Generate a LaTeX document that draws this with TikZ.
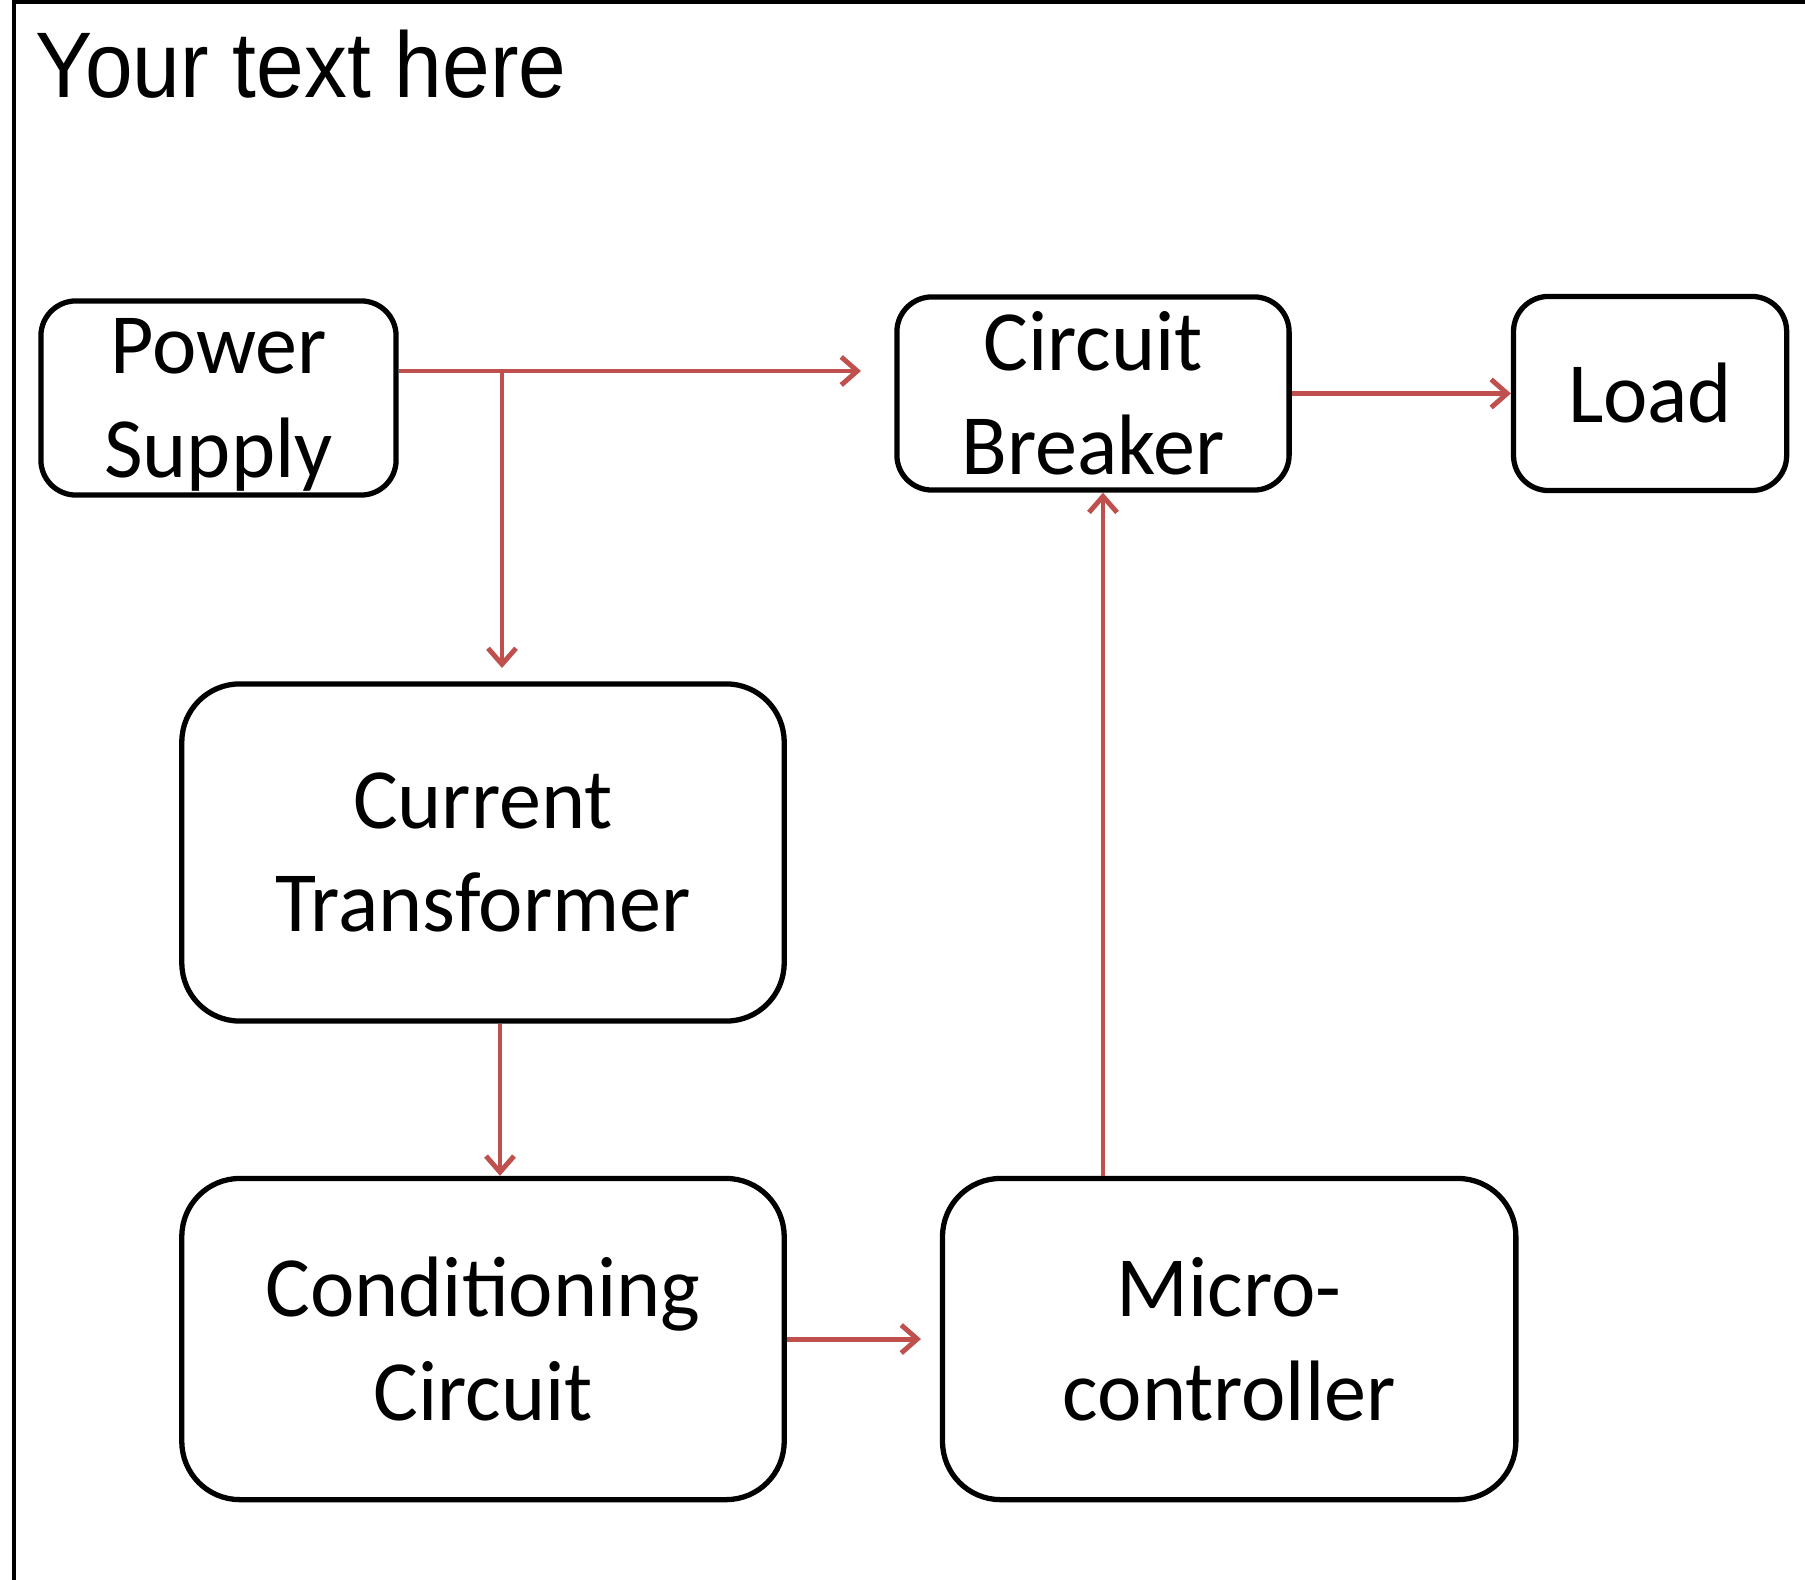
\documentclass[tikz,border=0pt]{standalone}
\usepackage{fontspec}
\setmainfont{Carlito}[FakeStretch=0.98]
\newfontfamily\titlefont{Liberation Sans}[FakeStretch=0.92]
\usetikzlibrary{positioning, arrows.meta}
\definecolor{arrowred}{HTML}{C0504D}

\begin{document}
\begin{tikzpicture}[
    x=0.01cm, y=-0.01cm,
    block/.style={rectangle, draw, line width=1.5pt, rounded corners=0.35cm, inner sep=0pt, align=center, font=\fontsize{24.4}{29.5}\selectfont},
    bigblock/.style={block, rounded corners=0.58cm},
    arrow/.style={-{Straight Barb[length=1.6mm, width=2.8mm]}, line width=1.4pt, draw=arrowred}
]
    \useasboundingbox (0,0) rectangle (1805,1580);

    % frame and title
    \draw[line width=0.9pt] (1805,2) -- (14,2) -- (14,1580);
    \node[anchor=base west, inner sep=0pt, font=\titlefont\fontsize{26.5}{30}\selectfont] (title) at (35,98) {Your text here};

    % top row
    \node[block, minimum width=3.55cm, minimum height=1.94cm] (ps) at (218.5,398) {Power\\\smash{Supply}};
    \node[block, minimum width=3.92cm, minimum height=1.93cm] (cb) at (1093,393.5) {Circuit\\Breaker};
    \node[block, minimum width=2.73cm, minimum height=1.94cm, right=2.19cm of cb] (load) {Load};

    % lower boxes
    \node[bigblock, minimum width=6.02cm, minimum height=3.37cm] (ct) at (483,852.5) {Current\\Transformer};
    \node[bigblock, minimum width=6.02cm, minimum height=3.21cm, below=1.52cm of ct] (cc) {Conditioning\\Circuit};
    \node[bigblock, minimum width=5.73cm, minimum height=3.21cm, right=1.53cm of cc] (mcu) {Micro-\\controller};

    % free ends of the arrows
    \coordinate (cbin) at (861,371);
    \coordinate (split) at (502,371);
    \coordinate (ctin) at (502,668);
    \coordinate (mcuin) at (921,1338);

    % arrows
    \draw[arrow] (ps.east |- cbin) -- (cbin);
    \draw[arrow] (split) -- (ctin);
    \draw[arrow] ([xshift=0.17cm]ct.south) -- ([xshift=0.17cm]cc.north);
    \draw[arrow] (cc.east) -- (cc.east -| mcuin);
    \draw[arrow] ([xshift=0.1cm]mcu.north -| cb.south) -- ([xshift=0.1cm]cb.south);
    \draw[arrow] (cb.east) -- (load.west);

\end{tikzpicture}
\end{document}
